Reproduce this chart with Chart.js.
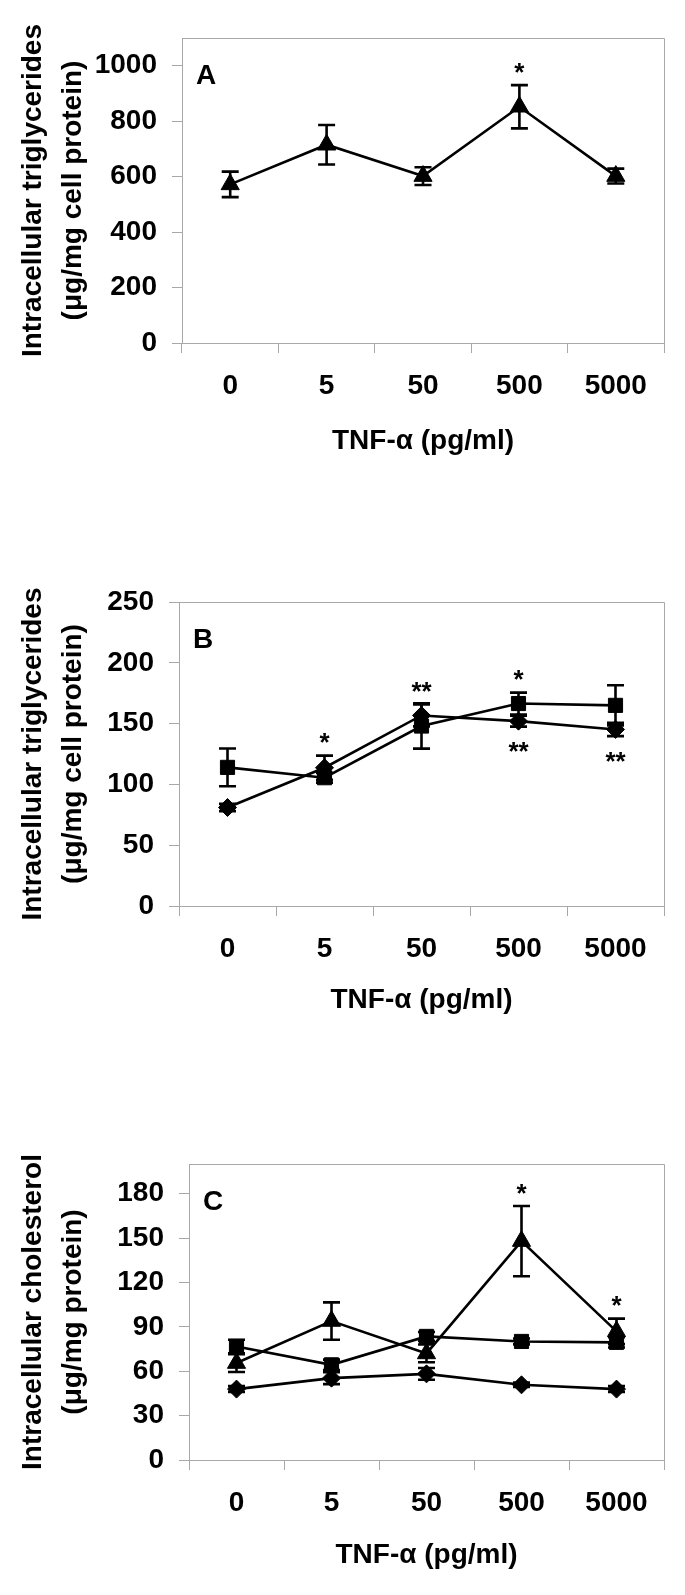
<!DOCTYPE html>
<html lang="en">
<head>
  <meta charset="UTF-8">
  <title>TNF-alpha and intracellular lipids</title>
  <script src="https://cdn.jsdelivr.net/npm/chart.js"></script>
  <style>
    body {
      margin: 0;
      background: #fff;
    }
    .panel {
      position: absolute;
      left: 0;
      width: 685px;
    }
  </style>
</head>
<body>

  <div class="panel" style="top:0px;height:473px"><canvas id="chartA" width="685" height="473"></canvas></div>
  <div class="panel" style="top:520px;height:512px"><canvas id="chartB" width="685" height="512"></canvas></div>
  <div class="panel" style="top:1080px;height:507px"><canvas id="chartC" width="685" height="507"></canvas></div>

  <script>
    // x categories (TNF-alpha dose, pg/ml)
    const doses = ['0', '5', '50', '500', '5000'];

    // Panel A - intracellular triglycerides
    const aTicks = [0, 200, 400, 600, 800, 1000];
    const aTriangle = [572, 715, 602, 852, 602];
    const aTriangleErr = [46, 71, 32, 78, 27];
    const aStars = [{ ds: 0, at: 3, text: '*', side: 'up' }];

    // Panel B - intracellular triglycerides
    const bTicks = [0, 50, 100, 150, 200, 250];
    const bSquare = [114, 105.5, 148, 166.5, 165];
    const bSquareErr = [15.5, 4, 18.6, 9, 16.5];
    const bDiamond = [81, 113.7, 156.7, 152, 145.2];
    const bDiamondErr = [3, 10, 9, 4.5, 5.5];
    const bStars = [
      { ds: 1, at: 1, text: '*', side: 'up' },
      { ds: 1, at: 2, text: '**', side: 'up' },
      { ds: 0, at: 3, text: '*', side: 'up' },
      { ds: 1, at: 3, text: '**', side: 'down' },
      { ds: 1, at: 4, text: '**', side: 'down' }
    ];

    // Panel C - intracellular cholesterol
    const cTicks = [0, 30, 60, 90, 120, 150, 180];
    const cTriangle = [65.5, 93.9, 72, 147.9, 86.9];
    const cTriangleErr = [6, 12.6, 6, 23.7, 8.6];
    const cSquare = [76.7, 64.3, 83.5, 80.1, 79.5];
    const cSquareErr = [4.6, 3.5, 3, 2, 3.5];
    const cDiamond = [47.9, 55.3, 58.2, 50.8, 47.9];
    const cDiamondErr = [2, 4, 4, 1.5, 2];
    const cStars = [
      { ds: 0, at: 3, text: '*', side: 'up' },
      { ds: 0, at: 4, text: '*', side: 'up' }
    ];

    const FONT = '"Liberation Sans", Arial, sans-serif';
    const GRAY = '#a8a8a8';
    const boldFont = (size, lh) => ({ family: FONT, size: size, weight: 'bold', lineHeight: lh || 1.2 });

    function series(values, errors, style, radius) {
      return {
        data: values,
        err: errors,
        borderColor: '#000',
        backgroundColor: '#000',
        borderWidth: 2.6,
        pointStyle: style,
        pointRadius: radius,
        pointBorderWidth: 1,
        tension: 0
      };
    }

    // error bars, panel frame, panel letter and significance marks
    const panelPlugin = {
      id: 'panel',
      beforeDatasetsDraw(chart) {
        const { ctx } = chart;
        const x = chart.scales.x, y = chart.scales.y;
        ctx.save();
        ctx.strokeStyle = '#000';
        ctx.lineWidth = 2.6;
        chart.data.datasets.forEach(ds => {
          ds.err.forEach((e, i) => {
            const px = x.getPixelForValue(i);
            const top = y.getPixelForValue(ds.data[i] + e);
            const bot = y.getPixelForValue(ds.data[i] - e);
            ctx.beginPath();
            ctx.moveTo(px, top); ctx.lineTo(px, bot);
            ctx.moveTo(px - 8.5, top); ctx.lineTo(px + 8.5, top);
            ctx.moveTo(px - 8.5, bot); ctx.lineTo(px + 8.5, bot);
            ctx.stroke();
          });
        });
        ctx.restore();
      },
      afterDraw(chart, args, opts) {
        const { ctx, chartArea: a } = chart;
        const x = chart.scales.x, y = chart.scales.y;
        ctx.save();
        ctx.strokeStyle = GRAY;
        ctx.lineWidth = 1;
        ctx.beginPath();
        ctx.moveTo(Math.round(a.left) + 0.5, Math.round(a.top) + 0.5);
        ctx.lineTo(Math.round(a.right) + 0.5, Math.round(a.top) + 0.5);
        ctx.lineTo(Math.round(a.right) + 0.5, Math.round(a.bottom) + 0.5);
        ctx.stroke();

        ctx.fillStyle = '#000';
        ctx.font = 'bold 28px ' + FONT;
        ctx.textAlign = 'left';
        ctx.textBaseline = 'middle';
        ctx.fillText(opts.letter, a.left + 14, a.top + 38);

        ctx.font = 'bold 26px ' + FONT;
        ctx.textAlign = 'center';
        ctx.textBaseline = 'alphabetic';
        opts.stars.forEach(s => {
          const ds = chart.data.datasets[s.ds];
          const px = x.getPixelForValue(s.at);
          const up = s.side === 'up';
          const v = up ? ds.data[s.at] + ds.err[s.at] : ds.data[s.at] - ds.err[s.at];
          const py = y.getPixelForValue(v) + (up ? -19 : 19);
          ctx.fillText(s.text, px, py + 14.5);
        });
        ctx.restore();
      }
    };

    function makeChart(id, cfg) {
      return new Chart(document.getElementById(id), {
        type: 'line',
        data: { labels: doses, datasets: cfg.datasets },
        options: {
          responsive: false,
          animation: false,
          layout: { padding: { top: cfg.top, right: 21, bottom: 0, left: 0 } },
          plugins: {
            legend: { display: false },
            tooltip: { enabled: false },
            panel: { letter: cfg.letter, stars: cfg.stars }
          },
          scales: {
            x: {
              offset: true,
              grid: { offset: true, drawOnChartArea: false, color: GRAY, tickLength: 10 },
              border: { color: GRAY },
              ticks: { color: '#000', font: boldFont(28), padding: 16 },
              title: {
                display: true,
                text: 'TNF-α (pg/ml)',
                color: '#000',
                font: boldFont(28),
                padding: { top: 0, bottom: 15 }
              },
              afterFit: s => { s.height = cfg.xHeight; }
            },
            y: {
              min: 0,
              max: cfg.max,
              afterBuildTicks: s => { s.ticks = cfg.ticks.map(v => ({ value: v })); },
              grid: { drawOnChartArea: false, color: GRAY, tickLength: 10 },
              border: { color: GRAY },
              ticks: { color: '#000', font: boldFont(28), padding: 15, callback: v => String(v) },
              title: {
                display: true,
                text: cfg.yTitle,
                color: '#000',
                font: boldFont(28, 1.43),
                padding: { top: 13, bottom: 0 }
              },
              afterFit: s => { s.width = cfg.left; }
            }
          }
        },
        plugins: [panelPlugin]
      });
    }

    makeChart('chartA', {
      letter: 'A', top: 38, left: 182, xHeight: 130, max: 1100, ticks: aTicks, stars: aStars,
      yTitle: ['Intracellular triglycerides', '(μg/mg cell protein)'],
      datasets: [series(aTriangle, aTriangleErr, 'triangle', 10.5)]
    });

    makeChart('chartB', {
      letter: 'B', top: 82, left: 179, xHeight: 126, max: 250, ticks: bTicks, stars: bStars,
      yTitle: ['Intracellular triglycerides', '(μg/mg cell protein)'],
      datasets: [series(bSquare, bSquareErr, 'rect', 10), series(bDiamond, bDiamondErr, 'rectRot', 9)]
    });

    makeChart('chartC', {
      letter: 'C', top: 84, left: 189, xHeight: 127, max: 200, ticks: cTicks, stars: cStars,
      yTitle: ['Intracellular cholesterol', '(μg/mg protein)'],
      datasets: [
        series(cTriangle, cTriangleErr, 'triangle', 10.5),
        series(cSquare, cSquareErr, 'rect', 10),
        series(cDiamond, cDiamondErr, 'rectRot', 9)
      ]
    });
  </script>
</body>
</html>
